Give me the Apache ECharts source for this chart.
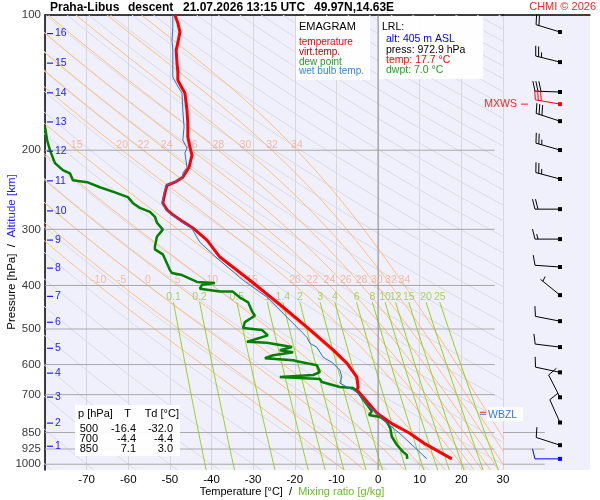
<!DOCTYPE html>
<html>
<head>
<meta charset="utf-8">
<title>Praha-Libus emagram</title>
<script src="https://cdn.jsdelivr.net/npm/echarts/dist/echarts.min.js"></script>
<style>
    html, body { margin: 0; padding: 0; background: #fff; }
    #chart { width: 600px; height: 500px; }
</style>
</head>
<body>
<div id="chart"></div>
<script>
// --- sounding (hPa, degC) ---
var tempP = [100, 104.2, 109.1, 115.4, 119.7, 127.9, 133.9, 139.6, 145.4, 149.2, 162.9, 174.1, 186.8, 196.7, 205, 218.2, 229.8, 235.6, 239.3, 249.2, 262, 271.5, 278.5, 288.4, 297.8, 317, 345.8, 389.5, 447.2, 495.1, 556.6, 595.6, 640.1, 673.2, 683.5, 708.4, 769, 812, 851, 901, 972.9];
var tempT = [-48.8, -48.1, -47.6, -48.1, -48.5, -48.3, -48.1, -48.1, -47.1, -46.4, -45.9, -45.7, -45.7, -45.2, -44.7, -45.4, -46.9, -48.8, -50.7, -51.2, -51.7, -50.7, -49.3, -46.9, -44.5, -41.1, -38.0, -30.8, -22.8, -17.1, -10.8, -7.5, -5.1, -4.8, -5.1, -3.6, -0.3, 3.3, 7.4, 11.3, 17.7];

var wetP = [100, 106.4, 113.7, 119.7, 130.6, 137.4, 143.1, 149.2, 162.9, 177.5, 189.9, 197.8, 202.9, 218.2, 225.1, 229.8, 235.6, 239.3, 249.2, 262, 271.5, 278.5, 288.4, 297.8, 320.6, 347.6, 389.5, 424.6, 470.4, 502.9, 521.6, 537.9, 549, 577.9, 595.6, 617.1, 639.7, 659.6, 673.2, 683.5, 700, 738, 774, 797, 851, 910, 972.9];
var wetT = [-49.3, -49.3, -49.5, -49.3, -49.3, -49.3, -48.3, -47.1, -46.9, -46.6, -46.9, -45.9, -46.4, -45.9, -46.9, -46.9, -49.0, -50.9, -51.4, -51.9, -50.9, -49.5, -47.2, -44.8, -42.8, -38.7, -32.4, -26.7, -21.9, -18.8, -17.1, -16.4, -14.7, -13.2, -10.8, -9.2, -8.7, -9.2, -7.5, -6.0, -4.4, -2.6, 0.0, 1.2, 5.0, 8.4, 11.7];

var dewP = [177, 189.9, 200.1, 213.7, 221.5, 225.1, 233.2, 235.6, 241.8, 249.2, 254.3, 262, 268.8, 274.4, 281.3, 290, 300.5, 311.3, 327.4, 332.4, 341, 369.7, 375.4, 379.3, 392.8, 394.8, 398.7, 406.7, 412.8, 412.8, 425.5, 436.2, 456.2, 467.1, 482.8, 497.4, 502.3, 516.6, 531.6, 534, 536.8, 548.6, 557.5, 563.1, 571.9, 580.8, 586.8, 589.8, 602, 623.6, 633, 639.7, 643, 646.3, 656.3, 673.2, 676.7, 690.6, 700, 762.4, 777, 784.6, 804.5, 829.6, 868.6, 905, 938.7, 953.1, 972.9];
var dewT = [-80, -79.5, -78.8, -77.6, -75.7, -74.0, -73.3, -69.9, -66.8, -62.7, -60.1, -58.9, -57.2, -54.8, -53.6, -53.1, -51.7, -53.1, -53.6, -53.6, -51.7, -50.0, -49.5, -47.1, -43.5, -39.2, -42.3, -42.8, -38.0, -34.9, -33.2, -31.2, -30.3, -29.6, -32.0, -32.4, -27.9, -26.5, -30.8, -31.5, -26.7, -20.7, -23.6, -20.4, -25.2, -27.2, -20.4, -19.5, -14.7, -14.0, -15.6, -23.6, -18.8, -14.0, -13.5, -9.2, -6.0, -4.8, -4.4, -1.5, -2.2, 0.5, 2.1, 2.9, 3.3, 4.5, 6.0, 6.9, 7.0];

// wind barbs: pressure, direction (deg), speed (kt), colour index
var windP = [109.1, 127.3, 148.4, 157.9, 172.3, 199.8, 231.8, 270.5, 315.4, 363.9, 420.3, 480.3, 548.6, 624.4, 709.6, 807.5, 906.9, 972.9];
var windDir = [287, 284, 272, 280, 288, 286, 285, 270, 270, 274, 309, 281, 277, 282, 333, 336, 288, 270];
var windSpd = [20, 25, 30, 30, 30, 25, 25, 20, 15, 10, 5, 10, 10, 10, 10, 10, 10, 10];
var windCol = [0, 0, 0, 1, 0, 0, 0, 0, 0, 0, 0, 0, 0, 0, 0, 0, 0, 2];
var barbColors = ['#000000', '#ff0000', '#0000ff'];

// markers in the wind column
var markerNames = ['MXWS', 'WBZL'];
var markerP = [157.9, 774];

// axes / diagram lines
var tempTicks = [-70, -60, -50, -40, -30, -20, -10, 0, 10, 20, 30];
var pressureLevels = [100, 200, 300, 400, 500, 600, 700, 850, 925, 1000];
var lowLevels = [850, 925, 1000];
var altKm = [16, 15, 14, 13, 12, 11, 10, 9, 8, 7, 6, 5, 4, 3, 2, 1];
var altP = [110, 128, 149, 173, 201, 234, 273, 317, 366, 423, 483, 552, 627, 709, 810, 912];
var thetaW = [-10, -5, 0, 5, 10, 15, 20, 22, 24, 26, 28, 30, 32, 34];
var thetaWTop = [15, 20, 22, 24, 26, 28, 30, 32, 34];
var mixRatios = [0.1, 0.2, 0.5, 1, 1.4, 2, 3, 4, 6, 8, 10, 12, 15, 20, 25];
var dryThetas = [];
for (var th = -80; th <= 310; th += 10) dryThetas.push(th);

// table
var tableP = [500, 700, 850];
var tableT = [-16.4, -4.4, 7.1];
var tableTd = [-32.0, -4.4, 3.0];

var pBottom = 1030, pTop = 100, mixTop = 436;
var font = '"Liberation Sans", Arial, sans-serif';

// --- thermodynamics for the diagram grid ---
function esat(tc) { return 6.112 * Math.exp(17.67 * tc / (tc + 243.5)); }
function dryT(thetaC, p) { return (thetaC + 273.15) * Math.pow(p / 1000, 0.2857) - 273.15; }
function mixT(w, p) {
    var e = w * p / (622 + w);
    var a = Math.log(e / 6.112);
    return 243.5 * a / (17.67 - a);
}
function moistGrad(tk, p) {
    var es = esat(tk - 273.15);
    var rs = 0.622 * es / (p - es);
    return (287 * tk + 2.5e6 * rs) / (p * (1004 + 2.5e6 * 2.5e6 * rs * 0.622 / (287 * tk * tk)));
}
function step(tk, p, dp) {
    var k1 = moistGrad(tk, p);
    var k2 = moistGrad(tk + k1 * dp / 2, p + dp / 2);
    return tk + k2 * dp;
}
function pseudoLine(thw) {
    var pts = [], tk = thw + 273.15, p = 1000;
    pts.push([thw, 1000]);
    while (p > pTop) { tk = step(tk, p, -5); p -= 5; pts.push([tk - 273.15, p]); }
    tk = thw + 273.15; p = 1000;
    while (p < pBottom) { tk = step(tk, p, 5); p += 5; pts.unshift([tk - 273.15, p]); }
    return pts;
}
function tAt(pts, p0) {
    for (var i = 0; i < pts.length; i++) if (Math.abs(pts[i][1] - p0) < 0.01) return pts[i][0];
    return null;
}

function thinLine(data, color, z, xi, yi) {
    return {
        type: 'line', data: data, xAxisIndex: xi || 0, yAxisIndex: yi || 0,
        symbol: 'none', silent: true, z: z || 1,
        lineStyle: { color: color, width: 1 }
    };
}

var series = [];

// dry adiabats
dryThetas.forEach(function (th) {
    var d = [];
    for (var p = pBottom; p >= pTop; p -= 10) d.push([dryT(th, p), p]);
    series.push(thinLine(d, '#dadae2', 1));
});

// pseudo-adiabats and their labels
var wLab400 = [], wLab200 = [], wTxt400 = [], wTxt200 = [];
thetaW.forEach(function (tw) {
    var pts = pseudoLine(tw);
    series.push(thinLine(pts, '#ffbd7a', 1));
    wLab400.push([tAt(pts, 400), 400]); wTxt400.push(String(tw));
    if (thetaWTop.indexOf(tw) >= 0) { wLab200.push([tAt(pts, 200), 200]); wTxt200.push(String(tw)); }
});

// mixing ratio lines
var mixLab = [];
mixRatios.forEach(function (w) {
    var d = [];
    for (var p = pBottom; p > mixTop; p -= 10) d.push([mixT(w, p), p]);
    d.push([mixT(w, mixTop), mixTop]);
    series.push(thinLine(d, '#96d01a', 1));
    mixLab.push([mixT(w, mixTop), mixTop]);
});

// isobars and 0 degC isotherm
pressureLevels.forEach(function (p) {
    if (p === pTop) return;
    series.push(thinLine([[-80, p], [28, p]], '#a8a8a8', 2));
});
lowLevels.forEach(function (p) {
    series.push(thinLine([[0, p], [0.48, p]], '#a8a8a8', 2, 2, 1));
});
series.push(thinLine([[0, pTop], [0, pBottom]], '#8c8c8c', 2));

function labelSeries(data, texts, color) {
    return {
        type: 'scatter', data: data, xAxisIndex: 0, yAxisIndex: 0,
        symbolSize: 0, silent: true, z: 3, clip: false,
        label: {
            show: true, position: 'top', distance: 0, color: color,
            fontSize: 10.5, fontFamily: font,
            formatter: function (prm) { return texts[prm.dataIndex]; }
        }
    };
}
series.push(labelSeries(wLab400, wTxt400, '#f6a98c'));
series.push(labelSeries(wLab200, wTxt200, '#f6a98c'));
series.push(labelSeries(mixLab, mixRatios.map(String), '#96cc30'));

// profiles
function zip(ps, ts) { return ps.map(function (p, i) { return [ts[i], p]; }); }
series.push({
    type: 'line', name: 'dew point', data: zip(dewP, dewT), symbol: 'none', z: 5,
    lineStyle: { color: '#008000', width: 2.5 }
});
series.push({
    type: 'line', name: 'temperature', data: zip(tempP, tempT), symbol: 'none', z: 6,
    lineStyle: { color: '#ff0000', width: 3 }
});
series.push({
    type: 'line', name: 'wet bulb temp.', data: zip(wetP, wetT), symbol: 'none', z: 7,
    lineStyle: { color: '#2a6ee0', width: 1 }
});

// pressure labels
series.push({
    type: 'scatter', data: pressureLevels.map(function (p) { return [-80, p]; }),
    symbolSize: 0, silent: true, clip: false, z: 8,
    label: {
        show: true, position: 'left', distance: 4, color: '#000',
        fontSize: 11.5, fontFamily: font,
        formatter: function (prm) { return String(pressureLevels[prm.dataIndex]); }
    }
});

// altitude labels
series.push({
    type: 'custom', xAxisIndex: 0, yAxisIndex: 0, clip: false, silent: true, z: 8,
    data: altKm.map(function (k, i) { return [-80, altP[i]]; }),
    renderItem: function (params, api) {
        var pt = api.coord([api.value(0), api.value(1)]);
        return {
            type: 'group', children: [
                { type: 'line', shape: { x1: pt[0] + 2, y1: pt[1], x2: pt[0] + 8, y2: pt[1] }, style: { stroke: '#1a1aff', lineWidth: 1.2 } },
                { type: 'text', style: { text: String(altKm[params.dataIndex]), x: pt[0] + 10, y: pt[1], fill: '#1a1aff', font: '10.5px ' + font, align: 'left', verticalAlign: 'middle', textAlign: 'left', textVerticalAlign: 'middle' } }
            ]
        };
    }
});

// wind barbs
var stationX = 0.655;
series.push({
    type: 'custom', xAxisIndex: 2, yAxisIndex: 1, clip: false, silent: true, z: 8,
    data: windP.map(function (p, i) { return [stationX, p, windDir[i], windSpd[i], windCol[i]]; }),
    renderItem: function (params, api) {
        var pt = api.coord([api.value(0), api.value(1)]);
        var a = api.value(2) * Math.PI / 180, spd = api.value(3);
        var col = barbColors[api.value(4)];
        var ux = Math.sin(a), uy = -Math.cos(a);
        var nx = -uy, ny = ux;
        var L = 25;
        var tx = pt[0] + ux * L, ty = pt[1] + uy * L;
        var kids = [
            { type: 'line', shape: { x1: pt[0], y1: pt[1], x2: tx, y2: ty }, style: { stroke: col, lineWidth: 1 } },
            { type: 'rect', shape: { x: pt[0] - 2, y: pt[1] - 2, width: 4, height: 4 }, style: { fill: col } }
        ];
        var rem = Math.round(spd / 5) * 5;
        var full = Math.floor(rem / 10), half = rem % 10 >= 5;
        var k = 0;
        function feather(len) {
            var bx = tx - ux * k * 3, by = ty - uy * k * 3;
            kids.push({ type: 'line', shape: { x1: bx, y1: by, x2: bx + nx * len + ux * len * 0.25, y2: by + ny * len + uy * len * 0.25 }, style: { stroke: col, lineWidth: 1 } });
            k++;
        }
        for (var f = 0; f < full; f++) feather(10);
        if (half) { if (full === 0) k = 1; feather(5); }
        return { type: 'group', children: kids };
    }
});

// MXWS / WBZL markers
series.push({
    type: 'custom', xAxisIndex: 2, yAxisIndex: 1, clip: false, silent: true, z: 9,
    data: markerP.map(function (p) { return [0, p]; }),
    renderItem: function (params, api) {
        var pt = api.coord([0, api.value(1)]);
        var name = markerNames[params.dataIndex];
        if (name === 'MXWS') {
            return {
                type: 'group', children: [
                    { type: 'text', style: { text: name, x: pt[0] + 14, y: pt[1], fill: '#ff2020', font: '10.5px ' + font, align: 'right', verticalAlign: 'middle', textAlign: 'right', textVerticalAlign: 'middle' } },
                    { type: 'line', shape: { x1: pt[0] + 18, y1: pt[1], x2: pt[0] + 25, y2: pt[1] }, style: { stroke: '#ff2020', lineWidth: 1 } }
                ]
            };
        }
        return {
            type: 'group', children: [
                { type: 'rect', shape: { x: pt[0] - 16, y: pt[1] - 7, width: 36, height: 14 }, style: { fill: '#ffffff' } },
                { type: 'line', shape: { x1: pt[0] - 23, y1: pt[1] - 2, x2: pt[0] - 17, y2: pt[1] - 2 }, style: { stroke: '#ff2020', lineWidth: 1 } },
                { type: 'line', shape: { x1: pt[0] - 23, y1: pt[1], x2: pt[0] - 17, y2: pt[1] }, style: { stroke: '#3377dd', lineWidth: 1 } },
                { type: 'text', style: { text: name, x: pt[0] - 15, y: pt[1] + 1, fill: '#3377dd', font: '10.5px ' + font, align: 'left', verticalAlign: 'middle', textAlign: 'left', textVerticalAlign: 'middle' } }
            ]
        };
    }
});

// --- text boxes ---
function txt(x, y, s, color, size, opts) {
    opts = opts || {};
    var al = opts.align || 'left';
    return {
        type: 'text', z: 60, x: x, y: y, rotation: opts.rotation || 0,
        style: {
            text: s, x: 0, y: 0, fill: color,
            font: (opts.bold ? 'bold ' : '') + size + 'px ' + font,
            align: al, verticalAlign: 'middle', textAlign: al, textVerticalAlign: 'middle',
            rich: opts.rich
        }
    };
}
function box(x, y, w, h) {
    return { type: 'rect', z: 55, shape: { x: x, y: y, width: w, height: h }, style: { fill: 'rgba(255,255,255,0.93)' } };
}

var graphics = [
    txt(50, 8, 'Praha-Libus', '#000', 12, { bold: true }),
    txt(128, 8, 'descent', '#000', 12, { bold: true }),
    txt(183, 8, '21.07.2026 13:15 UTC', '#000', 12, { bold: true }),
    txt(314, 8, '49.97N,14.63E', '#000', 12, { bold: true }),
    txt(596, 7, 'CHMI \u00a9 2026', '#ff2020', 11, { align: 'right' }),

    box(296, 16, 74, 64),
    txt(299, 26.5, 'EMAGRAM', '#000', 11),
    txt(299, 42.5, 'temperature', '#ff0000', 10),
    txt(299, 52.5, 'virt.temp.', '#b00000', 10),
    txt(299, 62, 'dew point', '#20a020', 10),
    txt(299, 71.5, 'wet bulb temp.', '#3a80e0', 10),

    box(379, 16, 104, 63),
    txt(382, 27.5, 'LRL:', '#000', 10.5),
    txt(386, 39.5, 'alt: 405 m ASL', '#0000ee', 10.5),
    txt(386, 50, 'press: 972.9 hPa', '#000', 10.5),
    txt(386, 60, 'temp: 17.7 \u00b0C', '#ff0000', 10.5),
    txt(386, 70, 'dwpt: 7.0 \u00b0C', '#20a020', 10.5),

    box(75, 405, 105, 51),
    txt(78, 414, 'p [hPa]', '#000', 11),
    txt(131, 414, 'T', '#000', 11, { align: 'right' }),
    txt(179, 414, 'Td [\u00b0C]', '#000', 11, { align: 'right' }),

    txt(292, 492, '{a|Temperature [\u00b0C]  /  }{b|Mixing ratio [g/kg]}', '#000', 11, {
        align: 'center',
        rich: { a: { fill: '#000', font: '11px ' + font }, b: { fill: '#66bb22', font: '11px ' + font } }
    }),
    txt(12, 252, '{a|Pressure [hPa]  /  }{b|Altitude [km]}', '#000', 11.5, {
        align: 'center', rotation: Math.PI / 2,
        rich: { a: { fill: '#000', font: '11.5px ' + font }, b: { fill: '#1a1aff', font: '11.5px ' + font } }
    })
];
tableP.forEach(function (p, i) {
    var y = 429 + i * 10;
    graphics.push(txt(98, y, String(p), '#000', 11, { align: 'right' }));
    graphics.push(txt(136, y, tableT[i].toFixed(1), '#000', 11, { align: 'right' }));
    graphics.push(txt(173, y, tableTd[i].toFixed(1), '#000', 11, { align: 'right' }));
});

var lavender = '#f0f0fc';
var chart = echarts.init(document.getElementById('chart'));
chart.setOption({
    animation: false,
    backgroundColor: '#ffffff',
    grid: [
        { left: 45, top: 15, width: 458, height: 455, show: true, backgroundColor: lavender, borderWidth: 0, containLabel: false, outerBoundsMode: 'none' },
        { left: 503, top: 15, width: 87, height: 455, show: true, backgroundColor: lavender, borderWidth: 0, containLabel: false, outerBoundsMode: 'none' }
    ],
    xAxis: [
        {
            type: 'value', gridIndex: 0, min: -80, max: 30, interval: 10,
            axisLine: { show: false }, axisTick: { show: false },
            axisLabel: {
                color: '#000', fontSize: 11.5, fontFamily: font, margin: 4,
                formatter: function (v) { return tempTicks.indexOf(v) >= 0 ? String(v) : ''; }
            },
            splitLine: { show: true, lineStyle: { color: '#d6d6dc', width: 1 } }
        },
        {
            type: 'value', gridIndex: 0, min: -80, max: 30, position: 'top',
            axisLine: { show: true, lineStyle: { color: '#000', width: 1.5 } },
            axisTick: { show: false }, axisLabel: { show: false }, splitLine: { show: false }
        },
        {
            type: 'value', gridIndex: 1, min: 0, max: 1, position: 'top',
            axisLine: { show: true, lineStyle: { color: '#000', width: 1.5 } },
            axisTick: { show: false }, axisLabel: { show: false }, splitLine: { show: false }
        }
    ],
    yAxis: [
        {
            type: 'log', logBase: 10, gridIndex: 0, min: pTop, max: pBottom, inverse: true,
            axisLine: { show: true, onZero: false, lineStyle: { color: '#000', width: 1.5 } },
            axisTick: { show: false }, axisLabel: { show: false }, splitLine: { show: false }
        },
        {
            type: 'log', logBase: 10, gridIndex: 1, min: pTop, max: pBottom, inverse: true,
            axisLine: { show: false }, axisTick: { show: false }, axisLabel: { show: false }, splitLine: { show: false }
        }
    ],
    graphic: { elements: graphics },
    series: series
});
</script>
</body>
</html>
